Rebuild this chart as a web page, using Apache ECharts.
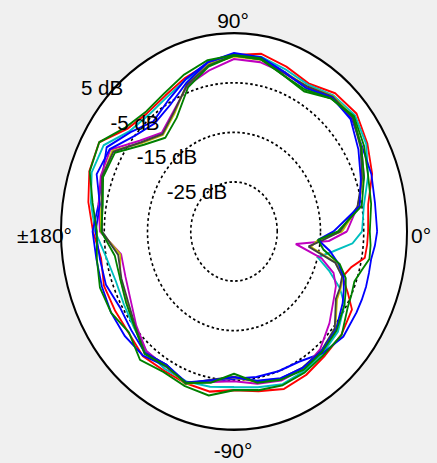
<!DOCTYPE html>
<html>
<head>
<meta charset="utf-8">
<script src="https://cdn.jsdelivr.net/npm/echarts@6/dist/echarts.min.js"></script>
<style>
  html, body { margin: 0; padding: 0; background: #f0f0f0; }
  #wrap { position: relative; width: 437px; height: 463px; overflow: hidden; }
  #polar { position: absolute; left: 0; top: 0; width: 437px; height: 404px; transform: scaleY(1.14604); transform-origin: 0 0; }
  #labels { position: absolute; left: 0; top: 0; width: 437px; height: 463px; }
</style>
</head>
<body>
<div id="wrap">
  <div id="polar"></div>
  <div id="labels"></div>
</div>
<script>
// Angles (degrees, counter-clockwise from 0°)
const angles = [0,10,20,30,40,50,60,70,80,90,100,110,120,130,140,150,160,170,180,190,200,210,220,230,240,250,260,270,280,290,300,310,320,330,335,340,345,350,355];

// Level values in dB for each trace
const redVals     = [-4.0,-3.5,-1.0,0.6,2.0,1.4,-0.5,0.4,1.4,0.6,-0.6,-2.0,-3.3,-3.8,-2.8,1.0,0.6,-0.8,-2.4,-3.8,-3.0,-3.2,-3.2,-2.2,-2.6,-2.4,-2.2,-3.0,-2.3,-1.2,-1.6,-2.3,-2.6,-3.5,-6.0,-8.3,-7.0,-4.3,-4.1];
const greenVals   = [-3.6,-2.8,-2.0,-0.3,1.2,0.0,-2.4,-1.5,0.5,0.6,0.1,-1.3,-2.8,-3.4,-2.3,1.0,0.5,-1.8,-3.3,-2.8,-2.0,-2.2,-3.3,-1.2,-2.3,-1.8,-1.4,-3.0,-2.5,-2.0,-2.2,-2.6,-2.5,-4.6,-5.0,-5.4,-4.5,-3.2,-3.3];
const blueVals    = [-1.9,-1.9,-1.2,-0.8,0.5,0.2,-1.5,-0.8,0.7,1.0,-0.3,-2.3,-4.5,-6.0,-3.8,-1.0,-2.6,-3.2,-2.3,-2.7,-2.5,-2.2,-2.1,-2.3,-3.6,-2.4,-4.3,-5.3,-5.2,-5.0,-4.7,-3.0,-2.0,-2.3,-2.4,-2.5,-2.7,-2.8,-2.3];
const cyanVals    = [-5.4,-4.5,-2.0,0.3,1.5,0.8,-0.8,-0.2,0.8,0.5,-0.8,-2.4,-3.8,-4.3,-3.5,-0.2,0.0,-1.4,-2.9,-5.0,-5.9,-5.6,-4.8,-3.5,-3.0,-2.8,-3.2,-3.6,-3.1,-2.2,-2.5,-3.0,-3.6,-5.5,-8.0,-11.5,-15.0,-11.8,-7.5];
const magentaVals = [-8.9,-6.0,-3.0,-1.0,0.8,0.4,-1.5,-1.0,-0.3,-0.2,-2.0,-3.6,-7.0,-9.0,-6.5,-2.0,-2.2,-3.2,-4.0,-8.5,-8.3,-7.4,-5.5,-3.5,-3.5,-2.6,-4.2,-4.8,-3.8,-3.0,-3.0,-4.0,-6.2,-8.3,-9.0,-10.5,-14.0,-20.5,-13.0];
const oliveVals   = [-10.0,-5.8,-3.2,-1.0,1.0,0.6,-1.2,-0.8,0.2,0.3,-0.8,-3.2,-7.5,-9.5,-7.2,-2.5,-2.6,-3.8,-4.2,-8.3,-7.0,-6.5,-5.0,-3.0,-3.8,-2.2,-4.5,-5.5,-4.2,-3.3,-3.1,-3.5,-4.4,-7.5,-7.8,-8.2,-10.5,-17.0,-15.5];
const grayVals    = [-10.5,-6.0,-3.5,-1.2,0.8,0.5,-1.2,-1.0,0.3,0.5,-1.0,-3.4,-7.2,-9.3,-7.0,-2.8,-2.5,-4.0,-4.5,-7.8,-7.3,-6.7,-5.2,-3.0,-3.9,-2.3,-4.6,-5.7,-4.3,-3.4,-3.3,-3.6,-4.6,-7.8,-8.0,-8.4,-10.8,-17.5,-14.5];
const blue2Vals   = [-12.0,-5.5,-3.8,-1.8,0.2,0.3,-1.6,-0.8,0.6,0.8,-0.3,-3.0,-5.5,-6.5,-5.0,-1.8,-1.2,-3.5,-3.0,-3.5,-3.5,-4.5,-4.0,-3.0,-3.9,-2.6,-4.5,-5.6,-4.4,-3.5,-3.2,-3.5,-4.2,-6.0,-7.0,-8.0,-10.0,-12.5,-15.5];
const green2Vals  = [-11.0,-5.0,-3.0,-1.0,1.0,0.0,-2.0,-1.5,0.3,0.5,-1.2,-4.0,-8.5,-10.3,-7.8,-3.2,-2.8,-4.2,-4.3,-7.0,-7.0,-6.2,-5.0,-2.8,-3.6,-2.5,-4.0,-6.3,-4.0,-3.2,-2.8,-3.3,-4.0,-5.5,-6.5,-7.5,-9.7,-14.0,-15.5];

// Grid rings (dB) and labels
const ringLevels = [-25, -15, -5];
const dbLabels = ['5 dB', '-5 dB', '-15 dB', '-25 dB'];
const angleLabels = ['0°', '90°', '±180°', '-90°'];

const traces = [
  { vals: redVals,     color: '#ff0000' },
  { vals: cyanVals,    color: '#00bfbf' },
  { vals: blueVals,    color: '#0000ff' },
  { vals: magentaVals, color: '#bf00bf' },
  { vals: oliveVals,   color: '#bfbf00' },
  { vals: grayVals,    color: '#404040' },
  { vals: blue2Vals,   color: '#0000ff' },
  { vals: green2Vals,  color: '#008000' },
  { vals: greenVals,   color: '#008000' }
];

const series = [];
ringLevels.forEach(function (lv) {
  const d = [];
  for (let a = 0; a <= 360; a += 2) d.push([lv, a]);
  series.push({
    type: 'line', coordinateSystem: 'polar', data: d, symbol: 'none', silent: true,
    lineStyle: { color: '#000', width: 1.6, type: [2.5, 2.5] }, z: 1
  });
});
traces.forEach(function (t) {
  const d = angles.map(function (a, i) { return [t.vals[i], a]; });
  d.push([t.vals[0], 360]);
  series.push({
    type: 'line', coordinateSystem: 'polar', data: d, symbol: 'none',
    lineStyle: { color: t.color, width: 1.8 }, z: 3
  });
});

const polarChart = echarts.init(document.getElementById('polar'), null, { renderer: 'svg' });
polarChart.setOption({
  animation: false,
  backgroundColor: 'transparent',
  polar: { center: [234, 202], radius: 173 },
  angleAxis: {
    type: 'value', min: 0, max: 360, interval: 90, startAngle: 0, clockwise: false,
    axisLine: { show: true, lineStyle: { color: '#000', width: 2 } },
    axisTick: { show: false }, axisLabel: { show: false },
    splitLine: { show: true, lineStyle: { color: '#000', width: 1.6, type: [2.5, 2.5] } },
    splitArea: { show: true, areaStyle: { color: ['#ffffff'] } }
  },
  radiusAxis: {
    type: 'value', min: -35, max: 5,
    axisLine: { show: false }, axisTick: { show: false },
    axisLabel: { show: false }, splitLine: { show: false }
  },
  series: series
});

const font = '21px "Liberation Sans", Arial, sans-serif';
const dbFont = '20.5px "Liberation Sans", Arial, sans-serif';
function txt(text, x, y, align, f) {
  return { type: 'text', x: x, y: y, z: 10,
    style: { text: text, font: f, fill: '#000', textAlign: align, textVerticalAlign: 'middle' } };
}
const labelChart = echarts.init(document.getElementById('labels'), null, { renderer: 'svg' });
labelChart.setOption({
  animation: false,
  backgroundColor: 'transparent',
  graphic: [
    txt(angleLabels[0], 411, 235, 'left', font),
    txt(angleLabels[1], 233, 20, 'center', font),
    txt(angleLabels[2], 72, 235, 'right', font),
    txt(angleLabels[3], 233, 450, 'center', font),
    txt(dbLabels[0], 102, 87, 'center', dbFont),
    txt(dbLabels[1], 135, 122, 'center', dbFont),
    txt(dbLabels[2], 167, 156, 'center', dbFont),
    txt(dbLabels[3], 197, 191, 'center', dbFont)
  ]
});
</script>
</body>
</html>
